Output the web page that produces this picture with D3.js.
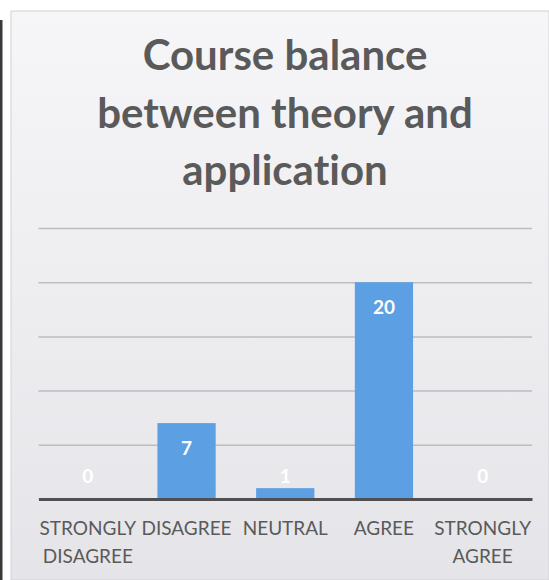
<!DOCTYPE html>
<html>
<head>
<meta charset="utf-8">
<script src="https://cdn.jsdelivr.net/npm/d3@7"></script>
<style>
  html, body { margin: 0; padding: 0; background: #ffffff; }
  svg { display: block; }
  text { font-variant-ligatures: none; }
</style>
</head>
<body>
<svg id="chart"></svg>
<script>
// chart data
var titleLines = ["Course balance", "between theory and", "application"];
var categories = ["STRONGLY DISAGREE", "DISAGREE", "NEUTRAL", "AGREE", "STRONGLY AGREE"];
// label lines for each category (how the words wrap under the axis)
var categoryLines = [["STRONGLY", "DISAGREE"], ["DISAGREE"], ["NEUTRAL"], ["AGREE"], ["STRONGLY", "AGREE"]];
var counts = [0, 7, 1, 20, 0];
var yTicks = [0, 5, 10, 15, 20, 25];

var width = 549, height = 580;
var margin = {left: 38.5, right: 17, top: 228, bottom: 81};

var svg = d3.select("#chart")
  .attr("width", width)
  .attr("height", height);

// scanned-card look: gradient background
var defs = svg.append("defs");
var grad = defs.append("linearGradient")
  .attr("id", "cardBg")
  .attr("x1", 0).attr("y1", 0).attr("x2", 0).attr("y2", 1);
grad.append("stop").attr("offset", "0%").attr("stop-color", "#f6f6f8");
grad.append("stop").attr("offset", "100%").attr("stop-color", "#e5e5e9");

// dark strip on the far left of the scan
svg.append("rect")
  .attr("x", 0).attr("y", 20)
  .attr("width", 2.5).attr("height", height - 20)
  .attr("fill", "#3a3a3c");

svg.append("rect")
  .attr("x", 11).attr("y", 11)
  .attr("width", width - 11).attr("height", height - 11)
  .attr("fill", "url(#cardBg)")
  .attr("stroke", "#d2d2d6")
  .attr("stroke-width", 1);

// title
svg.append("g")
  .selectAll("text")
  .data(titleLines)
  .join("text")
  .attr("x", 285)
  .attr("y", (d, i) => 70 + i * 57.5)
  .attr("text-anchor", "middle")
  .attr("font-family", "Lato, 'Open Sans', sans-serif")
  .attr("font-weight", "bold")
  .attr("font-size", 42)
  .attr("fill", "#5a5a5a")
  .text(d => d);

// scales
var x = d3.scaleBand()
  .domain(categories)
  .range([margin.left, width - margin.right])
  .paddingInner(0.41)
  .paddingOuter(0.205);

var y = d3.scaleLinear()
  .domain([0, 25])
  .range([height - margin.bottom, margin.top]);

// gridlines
var grid = svg.append("g")
  .attr("transform", "translate(" + margin.left + ",0)")
  .call(d3.axisLeft(y)
    .tickValues(yTicks)
    .tickSize(-(width - margin.left - margin.right))
    .tickFormat(""));
grid.select(".domain").remove();
grid.selectAll(".tick line")
  .attr("stroke", "#bdbdc0")
  .attr("stroke-width", 1.5);

// bars
svg.append("g")
  .selectAll("rect")
  .data(counts)
  .join("rect")
  .attr("x", (d, i) => x(categories[i]))
  .attr("y", d => y(d))
  .attr("width", x.bandwidth())
  .attr("height", d => y(0) - y(d))
  .attr("fill", "#5c9fe2");

// baseline / x axis
var xAxis = svg.append("g")
  .attr("transform", "translate(0," + y(0) + ")")
  .call(d3.axisBottom(x).tickSize(0).tickFormat(""));
xAxis.select(".domain")
  .attr("stroke", "#505052")
  .attr("stroke-width", 3);

// category labels, wrapped
xAxis.selectAll(".tick")
  .append("text")
  .attr("fill", "#5a5a5a")
  .attr("font-family", "Lato, 'Open Sans', sans-serif")
  .attr("font-size", 19)
  .attr("text-anchor", "middle")
  .each(function(d, i) {
    var t = d3.select(this);
    categoryLines[i].forEach(function(line, j) {
      t.append("tspan")
        .attr("x", 0)
        .attr("y", 36 + j * 28)
        .text(line);
    });
  });

// data labels
svg.append("g")
  .selectAll("text")
  .data(counts)
  .join("text")
  .attr("x", (d, i) => x(categories[i]) + x.bandwidth() / 2)
  .attr("y", d => Math.min(y(d) + 25, y(0) - 23))
  .attr("dy", "0.35em")
  .attr("text-anchor", "middle")
  .attr("font-family", "Lato, 'Open Sans', sans-serif")
  .attr("font-weight", "bold")
  .attr("font-size", 19)
  .attr("fill", "#ffffff")
  .text(d => d);
</script>
</body>
</html>
